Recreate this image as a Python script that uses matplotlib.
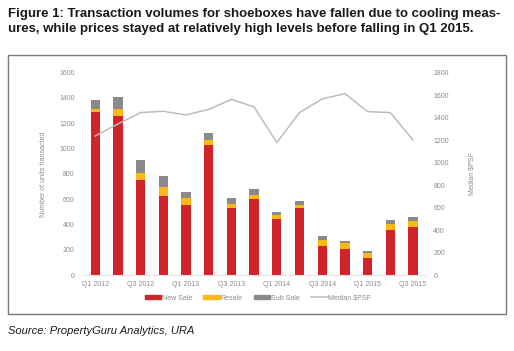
import numpy as np
import matplotlib.pyplot as plt
from matplotlib.patches import Rectangle
from matplotlib.lines import Line2D

plt.rcParams['font.family'] = ['Liberation Sans', 'DejaVu Sans']

quarters = ['Q1 2012', 'Q2 2012', 'Q3 2012', 'Q4 2012', 'Q1 2013', 'Q2 2013', 'Q3 2013', 'Q4 2013',
            'Q1 2014', 'Q2 2014', 'Q3 2014', 'Q4 2014', 'Q1 2015', 'Q2 2015', 'Q3 2015']
new_sale = [1292, 1260, 751, 627, 556, 1031, 533, 604, 446, 533, 232, 208, 137, 353, 382]
resale = [18, 50, 53, 72, 56, 37, 29, 31, 29, 21, 42, 45, 34, 53, 45]
sub_sale = [72, 98, 106, 84, 45, 55, 47, 43, 26, 29, 32, 16, 19, 32, 29]
median_psf = [1237, 1344, 1445, 1457, 1424, 1474, 1563, 1495, 1178, 1445, 1566, 1614, 1454, 1445, 1201]

red = '#d0232a'
yellow = '#fdb813'
grey = '#8a8a8a'
line_c = '#bdbdbd'
tick_c = '#8c8c8c'

fig = plt.figure(figsize=(5.14, 3.51), dpi=100)

# title
fig.text(8/514, 1 - 8/351, 'Figure 1: Transaction volumes for shoeboxes have fallen due to cooling meas-\n'
         'ures, while prices stayed at relatively high levels before falling in Q1 2015.',
         ha='left', va='top', fontsize=9.55, fontweight='bold', color='#1a1a1a', linespacing=1.32)

# frame box
fig.patches.append(Rectangle((8/514, 1 - 314/351), 498/514, 259/351, transform=fig.transFigure,
                             fill=False, edgecolor='#7a7a7a', linewidth=1.0))

ax = fig.add_axes([83/514, 1 - 275/351, 342/514, 202.3/351])
x = np.arange(len(quarters))
w = 0.41
ax.bar(x, new_sale, w, color=red, label='New Sale', zorder=2)
bottom2 = np.array(new_sale)
ax.bar(x, resale, w, bottom=bottom2, color=yellow, label='Resale', zorder=2)
bottom3 = bottom2 + np.array(resale)
ax.bar(x, sub_sale, w, bottom=bottom3, color=grey, label='Sub Sale', zorder=2)
ax.set_xlim(-0.54, 14.53)
ax.set_ylim(0, 1600)
ax.set_yticks(range(0, 1601, 200))
ax.set_xticks(x[::2])
ax.set_xticklabels(quarters[::2])
ax.set_ylabel('Number of units transacted', fontsize=5, color=tick_c, labelpad=9)

ax2 = ax.twinx()
ax2.plot(x, median_psf, color=line_c, linewidth=1.1, zorder=3)
ax2.set_ylim(0, 1800)
ax2.set_yticks(range(0, 1801, 200))
ax2.set_ylabel('Median $PSF', fontsize=5, color=tick_c, labelpad=14)

for a in (ax, ax2):
    for s in a.spines.values():
        s.set_visible(False)
    a.tick_params(length=0, labelsize=5, colors=tick_c, pad=6)
ax.spines['bottom'].set_visible(True)
ax.spines['bottom'].set_color('#e3e3e3')
ax.tick_params(axis='x', pad=4)

handles = [Rectangle((0, 0), 1, 1, color=red), Rectangle((0, 0), 1, 1, color=yellow),
           Rectangle((0, 0), 1, 1, color=grey), Line2D([0], [0], color=line_c, linewidth=1.1)]
fig.legend(handles, ['New Sale', 'Resale', 'Sub Sale', 'Median $PSF'], loc='center',
           bbox_to_anchor=(258/514, 1 - 298/351), ncol=4, frameon=False, fontsize=5,
           labelcolor=tick_c, handlelength=2.4, handleheight=0.5, handletextpad=0.1, columnspacing=1.6)

fig.text(8/514, 1 - 331/351, 'Source: PropertyGuru Analytics, URA', ha='left', va='center',
         fontsize=8, style='italic', color='#1a1a1a')

plt.savefig('out.png', dpi=100)
